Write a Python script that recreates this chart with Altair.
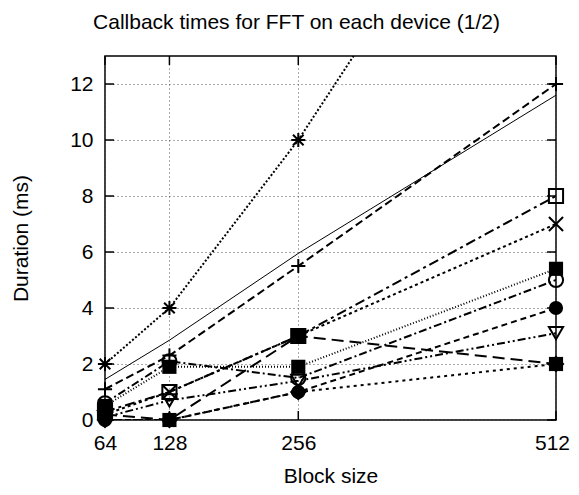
import altair as alt
import pandas as pd

# ---- data ----
block_sizes = [64, 128, 256, 512]
y_tick_values = [0, 2, 4, 6, 8, 10, 12]

plus_vals = [1.1, 2.3, 5.5, 12.0]
cross_vals = [0.2, 1.0, 3.0, 7.0]
star_vals = [2.0, 4.0, 10.0, 24.0]
box_vals = [0.3, 1.0, 3.0, 8.0]
fbox_vals = [0.5, 1.9, 1.9, 5.4]
circle_vals = [0.6, 2.1, 1.5, 5.0]
fcircle_vals = [0.0, 0.0, 1.0, 4.0]
fbox2_vals = [0.2, 0.0, 3.0, 2.0]
tri_down_vals = [0.1, 0.7, 1.4, 3.1]
diamond_vals = [0.0, 0.0, 1.0, 2.0]
fit_vals = [1.45, 2.85, 5.95, 11.6]

PLUS = "M-1,0L1,0M0,-1L0,1"
CROSS = "M-1,-1L1,1M-1,1L1,-1"
STAR = "M-1,0L1,0M0,-1L0,1M-0.75,-0.75L0.75,0.75M-0.75,0.75L0.75,-0.75"

series = [
    (plus_vals, PLUS, False, [8, 4]),
    (cross_vals, CROSS, False, [3, 3]),
    (star_vals, STAR, False, [2, 2]),
    (box_vals, "square", False, [10, 4, 3, 4]),
    (fbox_vals, "square", True, [1, 2]),
    (circle_vals, "circle", False, [8, 3, 2, 3]),
    (fcircle_vals, "circle", True, [6, 4]),
    (fbox2_vals, "square", True, [12, 6]),
    (tri_down_vals, "triangle-down", False, [8, 3, 2, 3, 2, 3]),
    (diamond_vals, "diamond", False, [3, 4]),
]

FONT = "Liberation Sans"
FS = 21
W, H = 451, 364

x_scale = alt.Scale(domain=[64, 512], nice=False, zero=False)
y_scale = alt.Scale(domain=[0, 13], nice=False, zero=False)

x_enc = alt.X(
    "x:Q", scale=x_scale,
    axis=alt.Axis(values=block_sizes, title="Block size", ticks=False, domain=False,
                  grid=True, gridDash=[1, 3], gridColor="#555", gridWidth=1,
                  labelFont=FONT, labelFontSize=FS, labelColor="black", labelPadding=12,
                  labelOffset={"condition": {"test": "datum.value == 512", "value": -4},
                               "value": 0},
                  titleFont=FONT, titleFontSize=FS, titleFontWeight="normal",
                  titleColor="black", titlePadding=12, labelFlush=False),
)
y_enc = alt.Y(
    "y:Q", scale=y_scale,
    axis=alt.Axis(values=y_tick_values, title="Duration (ms)", ticks=False, domain=False,
                  grid=True, gridDash=[1, 3], gridColor="#555", gridWidth=1,
                  labelFont=FONT, labelFontSize=FS, labelColor="black", labelPadding=12,
                  titleFont=FONT, titleFontSize=FS, titleFontWeight="normal",
                  titleColor="black", titlePadding=38, labelFlush=False),
)

layers = []

# fit line (thin solid)
fit_df = pd.DataFrame({"x": block_sizes, "y": fit_vals})
layers.append(alt.Chart(fit_df).mark_line(clip=True, color="black", strokeWidth=1)
              .encode(x=x_enc, y=y_enc))

for vals, shape, filled, dash in series:
    df = pd.DataFrame({"x": block_sizes, "y": vals})
    layers.append(
        alt.Chart(df).mark_line(clip=True, color="black", strokeWidth=2, strokeDash=dash)
        .encode(x=x_enc, y=y_enc)
    )
    layers.append(
        alt.Chart(df).transform_filter(alt.datum.y <= 13)
        .mark_point(shape=shape, filled=filled, size=200, strokeWidth=2,
                    color="black", opacity=1, fillOpacity=1)
        .encode(x=x_enc, y=y_enc)
    )

# inward ticks (gnuplot style)
yt = pd.DataFrame({"y": y_tick_values})
xt = pd.DataFrame({"x": block_sizes})
layers.append(alt.Chart(yt).mark_rule(color="black", strokeWidth=1.5)
              .encode(y=alt.Y("y:Q", scale=y_scale), x=alt.value(0), x2=alt.value(9)))
layers.append(alt.Chart(yt).mark_rule(color="black", strokeWidth=1.5)
              .encode(y=alt.Y("y:Q", scale=y_scale), x=alt.value(W - 9), x2=alt.value(W)))
layers.append(alt.Chart(xt).mark_rule(color="black", strokeWidth=1.5)
              .encode(x=alt.X("x:Q", scale=x_scale), y=alt.value(H - 9), y2=alt.value(H)))
layers.append(alt.Chart(xt).mark_rule(color="black", strokeWidth=1.5)
              .encode(x=alt.X("x:Q", scale=x_scale), y=alt.value(0), y2=alt.value(9)))

chart = alt.layer(*layers).properties(
    width=W, height=H,
    title=alt.TitleParams("Callback times for FFT on each device (1/2)", font=FONT,
                          fontSize=FS, fontWeight="normal", color="black",
                          anchor="middle", dx=-34, offset=22),
    autosize=alt.AutoSizeParams(type="none"),
    padding={"left": 97, "top": 48, "right": 15, "bottom": 67},
    background="white",
).configure_view(stroke="black", strokeWidth=1.5)

chart.save("out.html", embed_options={"renderer": "svg", "actions": False})
